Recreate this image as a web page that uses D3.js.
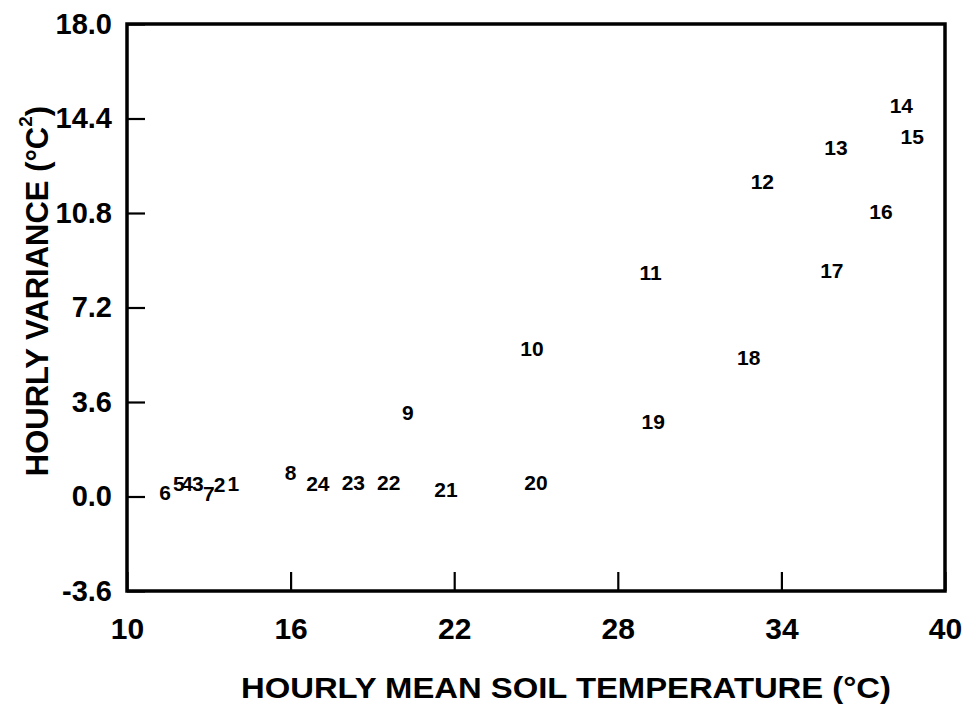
<!DOCTYPE html>
<html>
<head>
<meta charset="utf-8">
<script src="https://cdn.jsdelivr.net/npm/d3@7"></script>
<style>
  html, body { margin: 0; padding: 0; background: #fff; }
  svg { display: block; }
  text { font-family: "Liberation Sans", Arial, sans-serif; font-weight: bold; fill: #000; }
</style>
</head>
<body>
<svg id="chart" width="970" height="705"></svg>
<script>
// ---- Data (hour labels, mean soil temperature, hourly variance) ----
const hours = ["1","2","3","4","5","6","7","8","9","10","11","12","13","14","15","16","17","18","19","20","21","22","23","24"];
const meanTemp = [13.9, 13.4, 12.6, 12.2, 11.9, 11.4, 13.0, 16.0, 20.3, 24.85, 29.2, 33.3, 36.0, 38.4, 38.8, 37.65, 35.85, 32.8, 29.3, 25.0, 21.7, 19.6, 18.3, 17.0];
const variance = [0.5, 0.45, 0.5, 0.5, 0.5, 0.15, 0.1, 0.9, 3.2, 5.65, 8.55, 12.0, 13.3, 14.9, 13.7, 10.85, 8.6, 5.3, 2.85, 0.55, 0.25, 0.55, 0.55, 0.5];
const xTicks = [10, 16, 22, 28, 34, 40];
const yTicks = [-3.6, 0.0, 3.6, 7.2, 10.8, 14.4, 18.0];
const yTickLabels = ["-3.6", "0.0", "3.6", "7.2", "10.8", "14.4", "18.0"];
const xTitle = "HOURLY MEAN SOIL TEMPERATURE (°C)";

const points = hours.map((h, i) => ({ label: h, x: meanTemp[i], y: variance[i] }));

const svg = d3.select("#chart");
const mLeft = 127, mRight = 945, mTop = 24, mBottom = 591;

const x = d3.scaleLinear().domain([10, 40]).range([mLeft, mRight]);
const y = d3.scaleLinear().domain([-3.6, 18]).range([mBottom, mTop]);

// y axis (ticks pointing inward)
const yAxis = d3.axisLeft(y)
  .tickValues(yTicks)
  .tickFormat((d, i) => yTickLabels[i])
  .tickSizeInner(-18).tickSizeOuter(0).tickPadding(15);
const gy = svg.append("g").attr("transform", `translate(${mLeft},0)`).call(yAxis);
gy.select(".domain").remove();
gy.selectAll(".tick line").attr("stroke", "#000").attr("stroke-width", 2.2);
gy.selectAll(".tick text").attr("font-size", 29).attr("font-family", "Liberation Sans, Arial, sans-serif").attr("font-weight", "bold").attr("fill", "#000");

// x axis (ticks pointing inward)
const xAxis = d3.axisBottom(x)
  .tickValues(xTicks)
  .tickFormat(d3.format("d"))
  .tickSizeInner(-19).tickSizeOuter(0).tickPadding(27);
const gx = svg.append("g").attr("transform", `translate(0,${mBottom})`).call(xAxis);
gx.select(".domain").remove();
gx.selectAll(".tick line").attr("stroke", "#000").attr("stroke-width", 2.2);
gx.selectAll(".tick text").attr("font-size", 30).attr("font-family", "Liberation Sans, Arial, sans-serif").attr("font-weight", "bold").attr("fill", "#000");

// frame
svg.append("rect")
  .attr("x", mLeft).attr("y", mTop)
  .attr("width", mRight - mLeft).attr("height", mBottom - mTop)
  .attr("fill", "none").attr("stroke", "#000").attr("stroke-width", 3.5);

// point labels
svg.append("g").selectAll("text")
  .data(points)
  .join("text")
  .attr("x", d => x(d.x))
  .attr("y", d => y(d.y))
  .attr("text-anchor", "middle")
  .attr("dominant-baseline", "central")
  .attr("font-size", 21)
  .text(d => d.label);

// axis titles
svg.append("text")
  .attr("x", 566).attr("y", 688)
  .attr("text-anchor", "middle")
  .attr("dominant-baseline", "central")
  .attr("font-size", 29)
  .attr("textLength", 650)
  .attr("lengthAdjust", "spacingAndGlyphs")
  .text(xTitle);

const yt = svg.append("text")
  .attr("transform", "translate(37,291) rotate(-90)")
  .attr("text-anchor", "middle")
  .attr("dominant-baseline", "central")
  .attr("font-size", 31);
yt.append("tspan").text("HOURLY VARIANCE (°C");
yt.append("tspan").attr("font-size", 19).attr("dy", -12).text("2");
yt.append("tspan").attr("dy", 12).text(")");
</script>
</body>
</html>
